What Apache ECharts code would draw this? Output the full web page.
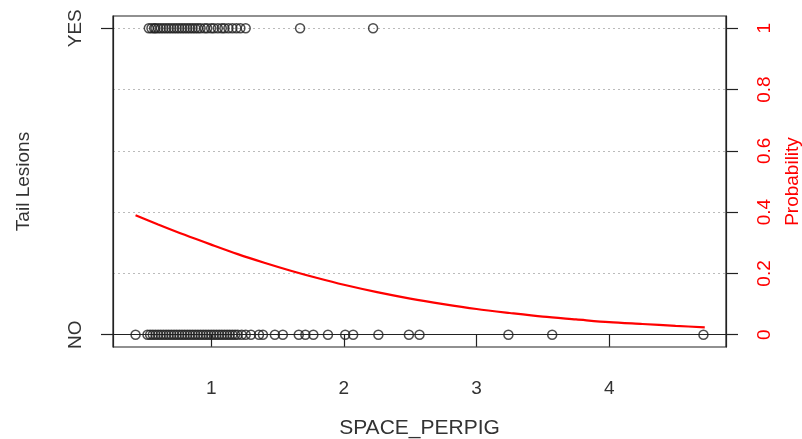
<!DOCTYPE html>
<html><head><meta charset="utf-8">
<script src="https://cdn.jsdelivr.net/npm/echarts@6/dist/echarts.min.js"></script>
<style>html,body{margin:0;padding:0;background:#fff}#c{width:802px;height:439px}</style>
</head><body><div id="c"></div>
<script>
// Observed SPACE_PERPIG values with tail lesions = YES
var yesX = [0.53,0.55,0.57,0.58,0.60,0.62,0.64,0.66,0.68,0.70,0.72,0.74,0.76,0.78,0.80,0.82,0.84,0.86,0.88,0.90,0.92,0.95,0.97,1.00,1.02,1.05,1.08,1.10,1.13,1.16,1.19,1.22,1.26,1.67,2.22];
// Observed SPACE_PERPIG values with tail lesions = NO
var noX = [0.43,0.52,0.54,0.56,0.58,0.60,0.62,0.64,0.66,0.68,0.70,0.72,0.74,0.76,0.78,0.80,0.82,0.84,0.86,0.88,0.90,0.92,0.94,0.96,0.98,1.00,1.02,1.04,1.06,1.08,1.10,1.12,1.14,1.16,1.18,1.20,1.23,1.26,1.30,1.36,1.39,1.48,1.54,1.66,1.71,1.77,1.88,2.01,2.07,2.26,2.49,2.57,3.24,3.57,4.71];
// Fitted probability curve
var curveX = [0.43,0.6,0.8,1.0,1.2,1.4,1.6,1.8,2.0,2.25,2.5,2.75,3.0,3.25,3.5,3.75,4.0,4.25,4.5,4.72];
var curveP = [0.390,0.360,0.326,0.294,0.263,0.235,0.209,0.185,0.163,0.139,0.118,0.100,0.084,0.071,0.059,0.050,0.041,0.035,0.029,0.024];
var xTicks = [1,2,3,4];
var leftTicks = [0,1];
var leftLabels = {0:'NO',1:'YES'};
var probTicks = [0,0.2,0.4,0.6,0.8,1];

var chart = echarts.init(document.getElementById('c'));
var font = 'Liberation Sans, Arial, sans-serif';
var dark = '#333';
var pts = [];
yesX.forEach(function(x){pts.push([x,1]);});
noX.forEach(function(x){pts.push([x,0]);});
chart.setOption({
  animation:false,
  grid:{left:113,right:76,top:16,bottom:92,show:true,borderColor:'#222',borderWidth:1.2,backgroundColor:'transparent',
    containLabel:false,outerBoundsMode:'none'},
  xAxis:{type:'value',min:0.26,max:4.88,
    name:'SPACE_PERPIG',nameLocation:'middle',nameGap:71,
    nameTextStyle:{color:dark,fontSize:21,fontFamily:font},
    axisLine:{show:true,lineStyle:{color:'#222',width:1.2}},
    axisTick:{show:true,length:12,customValues:xTicks,lineStyle:{color:'#222',width:1.2}},
    axisLabel:{customValues:xTicks,margin:32,color:dark,fontSize:19,fontFamily:font},
    splitLine:{show:false}},
  yAxis:[
    {type:'value',min:-0.04,max:1.04,position:'left',
      name:'Tail Lesions',nameLocation:'middle',nameGap:80,nameRotate:90,
      nameTextStyle:{color:dark,fontSize:19,fontFamily:font},
      axisLine:{show:true,lineStyle:{color:'#222',width:1.2}},
      axisTick:{show:true,length:12,customValues:leftTicks,lineStyle:{color:'#222',width:1.2}},
      axisLabel:{customValues:leftTicks,rotate:90,margin:28,color:dark,fontSize:19,fontFamily:font,
        formatter:function(v){return leftLabels[Math.round(v)];}},
      splitLine:{show:false}},
    {type:'value',min:-0.04,max:1.04,position:'right',
      name:'Probability',nameLocation:'middle',nameGap:57,nameRotate:90,
      nameTextStyle:{color:'#ff0000',fontSize:19,fontFamily:font},
      axisLine:{show:true,lineStyle:{color:'#222',width:1.2}},
      axisTick:{show:true,length:12,customValues:probTicks,lineStyle:{color:'#222',width:1.2}},
      axisLabel:{customValues:probTicks,rotate:90,margin:29,color:'#ff0000',fontSize:19,fontFamily:font,
        formatter:function(v){return String(Math.round(v*10)/10);}},
      splitLine:{show:true,lineStyle:{color:'#bbb',type:[2,3],width:1}}}
  ],
  series:[
    {type:'scatter',yAxisIndex:0,data:pts,symbol:'circle',symbolSize:9,
      itemStyle:{color:'rgba(0,0,0,0)',borderColor:'#222',borderWidth:1.5},z:3},
    {type:'line',yAxisIndex:1,data:curveX.map(function(x,i){return [x,curveP[i]];}),
      smooth:0.3,showSymbol:false,lineStyle:{color:'#ff0000',width:2.2},z:4}
  ]
});
</script></body></html>
